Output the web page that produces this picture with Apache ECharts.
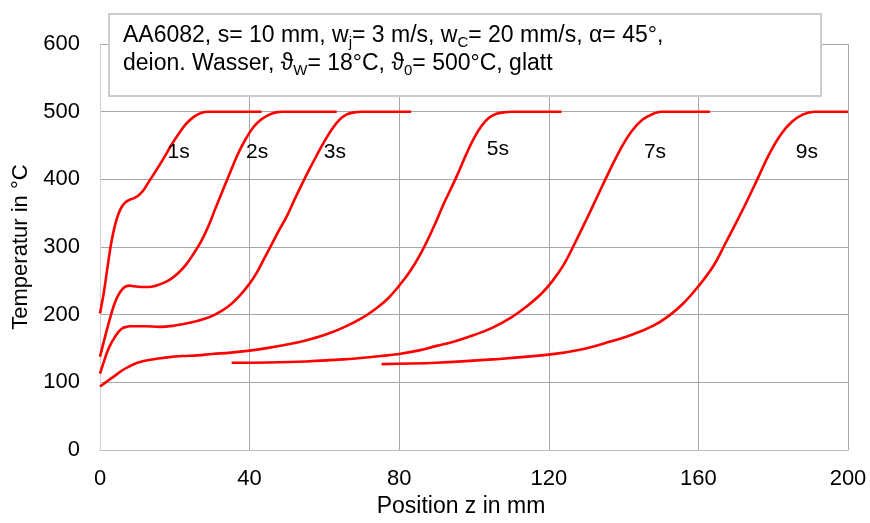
<!DOCTYPE html>
<html>
<head>
<meta charset="utf-8">
<script src="https://cdn.jsdelivr.net/npm/echarts@6/dist/echarts.min.js"></script>
<style>html,body{margin:0;padding:0;background:#fff;}#c{width:870px;height:523px;}</style>
</head>
<body>
<div id="c"></div>
<script>
// ---- data (x: Position z in mm, y: Temperatur in °C) ----
const curve1s = [[0,202],[1,232],[2,270],[3,306],[4,332],[5,350],[6,361],[7,367],[8,370],[9,372],[10,375],[11,380],[12,387],[13,396],[15,413],[17,431],[19,450],[21,467],[23,482],[25,492],[27,498],[29,500],[43.2,500]];
const curve2s = [[0,138],[1,160],[2,181],[3,201],[4,218],[5,230],[6,238],[7,242],[8,243],[9,242],[11,241],[13,241],[15,243],[17,247],[19,253],[21,262],[23,274],[25,290],[27,308],[29,331],[31,359],[33,386],[35,413],[37,439],[39,460],[41,477],[43,488],[45,495],[47,499],[49,500],[63.3,500]];
const curve3s = [[0,113],[1,130],[2,146],[3,158],[4,167],[5,175],[6,180],[7,182],[8,183],[12,183],[16,182],[20,184],[24,188],[28,194],[31,201],[34,211],[37,226],[40,246],[42,263],[44,284],[46,305],[48,326],[50,346],[52,370],[54,393],[56,415],[58,436],[60,456],[62,474],[64,488],[66,496],[68,499],[70,500],[83.2,500]];
const curve5s = [[0,94],[2,102],[4,110],[6,118],[8,124],[10,129],[14,134],[18,137],[22,139],[26,140],[30,142],[35,144],[40,147],[45,151],[50,156],[55,162],[60,170],[65,181],[70,195],[74,210],[77,224],[80,243],[83,265],[86,293],[89,327],[92,365],[95,400],[98,438],[100,461],[102,479],[104,491],[106,497],[108,499],[110,500],[123.4,500]];
const curve7s = [[35.2,129],[45,129.5],[55,131],[65,134],[75,139],[80,142],[85,147],[90,154],[95,161],[100,170],[105,181],[110,196],[114,212],[118,231],[121,250],[124,274],[127,306],[130,340],[133,375],[136,410],[139,443],[142,470],[145,488],[148,497],[150,500],[163.1,500]];
const curve9s = [[75.3,127],[90,129],[105,134],[120,141],[128,148],[135,158],[142,170],[148,184],[152,198],[156,217],[160,242],[164,272],[167,303],[170,335],[173,368],[176,403],[179,438],[182,466],[185,485],[188,496],[191,500],[200,500]];
const curveLabels = ['1s','2s','3s','5s','7s','9s'];
const labelX = [21.0,42.0,62.8,106.4,148.4,189.0];
const labelY = [440,440,440,444,440,440];
const xTicks = [0,40,80,120,160,200];
const yTicks = [0,100,200,300,400,500,600];

const FONT = '"Liberation Sans", Arial, sans-serif';
const chart = echarts.init(document.getElementById('c'), null, {renderer:'canvas'});
const curves = [curve1s, curve2s, curve3s, curve5s, curve7s, curve9s];
const series = curves.map((d, i) => ({
  name: curveLabels[i], type: 'line', data: d, showSymbol: false, symbol: 'none',
  smooth: 0.4,
  lineStyle: {color: '#ff0000', width: 2.6}, z: 3
}));
series.push({
  type: 'scatter', symbolSize: 0, z: 4, silent: true,
  itemStyle: {opacity: 1},
  data: curveLabels.map((n, i) => ({name: n, value: [labelX[i], labelY[i]]})),
  label: {show: true, position: 'inside', formatter: p => p.name, color: '#000', opacity: 1, fontSize: 21, fontFamily: FONT, textBorderWidth: 0}
});

chart.setOption({
  animation: false,
  backgroundColor: '#fff',
  grid: {left: 100, right: 22, top: 44, bottom: 71, containLabel: false},
  xAxis: {
    type: 'value', min: xTicks[0], max: xTicks[xTicks.length-1], interval: 40,
    name: 'Position z in mm', nameLocation: 'middle', nameGap: 44,
    nameTextStyle: {fontSize: 23, color: '#000', fontFamily: FONT, padding: [0, 26, 0, 0]},
    axisLine: {show: true, lineStyle: {color: '#bfbfbf', width: 1}},
    axisTick: {show: false},
    axisLabel: {fontSize: 22, color: '#000', fontFamily: FONT, margin: 18},
    splitLine: {show: true, lineStyle: {color: '#a6a6a6', width: 1}}
  },
  yAxis: {
    type: 'value', min: yTicks[0], max: yTicks[yTicks.length-1], interval: 100,
    name: 'Temperatur in °C', nameLocation: 'middle', nameGap: 67, nameRotate: 90,
    nameTextStyle: {fontSize: 22, color: '#000', fontFamily: FONT},
    axisLine: {show: true, lineStyle: {color: '#cfcfcf', width: 1}},
    axisTick: {show: false},
    axisLabel: {fontSize: 22, color: '#000', fontFamily: FONT, margin: 20},
    splitLine: {show: true, lineStyle: {color: '#a6a6a6', width: 1}}
  },
  series: series,
  graphic: [
    {type: 'rect', z: 100, shape: {x: 109, y: 14, width: 712, height: 82},
     style: {fill: '#fff', stroke: '#cccccc', lineWidth: 2}},
    {type: 'text', z: 101, x: 123, y: 22,
     style: {
       text: '{t|AA6082, s= 10 mm, w}{s|j}{t|= 3 m/s, w}{s|C}{t|= 20 mm/s, α= 45°,}\n{t|deion. Wasser, ϑ}{s|W}{t|= 18°C, ϑ}{s|0}{t|= 500°C, glatt}',
       fill: '#000', font: '23px ' + FONT,
       rich: {
         t: {fontSize: 23, lineHeight: 28, fontFamily: FONT, fill: '#000'},
         s: {fontSize: 15, lineHeight: 15, verticalAlign: 'bottom', fontFamily: FONT, fill: '#000'}
       }
     }}
  ]
});
</script>
</body>
</html>
